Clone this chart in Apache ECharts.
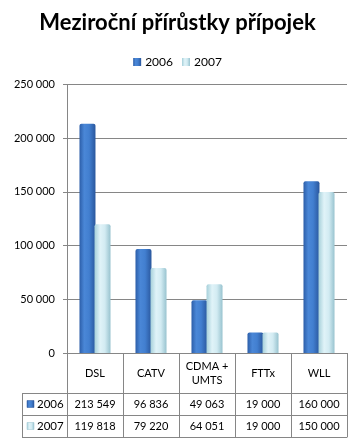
<!DOCTYPE html>
<html><head><meta charset="utf-8">
<script src="https://cdn.jsdelivr.net/npm/echarts@6/dist/echarts.min.js"></script>
<style>html,body{margin:0;padding:0;background:#fff}#c{width:355px;height:443px}</style>
</head><body><div id="c"></div>
<script>
const titleText = 'Meziroční přírůstky přípojek';
const categories = ['DSL', 'CATV', 'CDMA +\nUMTS', 'FTTx', 'WLL'];
const seriesNames = ['2006', '2007'];
const values2006 = [213549, 96836, 49063, 19000, 160000];
const values2007 = [119818, 79220, 64051, 19000, 150000];
const yTicks = [0, 50000, 100000, 150000, 200000, 250000];

const fmt = v => String(v).replace(/\B(?=(\d{3})+(?!\d))/g, ' ');
const FONT = 'Lato';
const GRAY = '#868686';
const W = 355, H = 443;
const gridLeft = 67, gridRight = 8, gridTop = 84.5, gridBottom = 90;
const headerH = 40, rowH = 22;
const tableLeft = 22;
const axisY = H - gridBottom;

const grad2006 = () => new echarts.graphic.LinearGradient(0, 0, 1, 0, [
  {offset: 0, color: '#2c5ea9'}, {offset: 0.3, color: '#4a87d7'},
  {offset: 0.6, color: '#427fd0'}, {offset: 1, color: '#2a579d'}]);
const grad2007 = () => new echarts.graphic.LinearGradient(0, 0, 1, 0, [
  {offset: 0, color: '#a6d0da'}, {offset: 0.35, color: '#e0f3f8'},
  {offset: 0.65, color: '#d2ebf2'}, {offset: 1, color: '#98c3cf'}]);

const chart = echarts.init(document.getElementById('c'), null, {renderer: 'canvas'});
const labelBase = {color: '#000', fontSize: 11, fontFamily: FONT};

const lineStyle = {color: GRAY, width: 1};
const tableAxis = (data, offset, margin, showLabel) => ({
  type: 'category', data: data, position: 'bottom', offset: offset, gridIndex: 0,
  axisLine: {show: true, lineStyle: lineStyle},
  axisTick: {show: false},
  axisLabel: Object.assign({show: showLabel, interval: 0, margin: margin, verticalAlign: 'middle'}, labelBase),
  splitLine: {show: false}
});

const graphics = [];
[headerH, headerH + rowH, headerH + 2 * rowH].forEach(dy => {
  graphics.push({type: 'line', shape: {x1: tableLeft, y1: axisY + dy + 0.5, x2: gridLeft, y2: axisY + dy + 0.5}, style: {stroke: GRAY, lineWidth: 1}});
});
graphics.push({type: 'line', shape: {x1: tableLeft + 0.5, y1: axisY + headerH, x2: tableLeft + 0.5, y2: axisY + headerH + 2 * rowH}, style: {stroke: GRAY, lineWidth: 1}});
[grad2006, grad2007].forEach((g, i) => {
  const cy = axisY + headerH + rowH * i + rowH / 2;
  graphics.push({type: 'rect', shape: {x: tableLeft + 5, y: cy - 3.5, width: 7, height: 7}, style: {fill: g(), stroke: i === 0 ? '#2a579d' : '#98c3cf', lineWidth: 0.5}});
  graphics.push({type: 'text', x: tableLeft + 15, y: cy, style: {text: seriesNames[i], fill: '#000', font: '11.5px ' + FONT, verticalAlign: 'middle', align: 'left'}});
});

chart.setOption({
  backgroundColor: '#fff',
  animation: false,
  title: {text: titleText, left: 'center', top: 7,
    textStyle: {fontFamily: FONT, fontWeight: 'bold', fontSize: 22, color: '#000'}},
  legend: {top: 51, left: 'center', itemWidth: 8, itemHeight: 8, itemGap: 9,
    icon: 'rect', textStyle: {fontFamily: FONT, fontSize: 12, color: '#000', padding: [0, 0, 0, -1]},
    data: seriesNames},
  grid: {left: gridLeft, right: gridRight, top: gridTop, bottom: gridBottom, containLabel: false},
  xAxis: [
    {type: 'category', data: categories, position: 'bottom',
      axisLine: {show: true, lineStyle: lineStyle},
      axisTick: {show: true, interval: 0, length: headerH + 2 * rowH, lineStyle: lineStyle},
      axisLabel: Object.assign({interval: 0, margin: headerH / 2, verticalAlign: 'middle', lineHeight: 14, align: 'center'}, labelBase)},
    tableAxis(values2006.map(fmt), headerH, rowH / 2, true),
    tableAxis(values2007.map(fmt), headerH + rowH, rowH / 2, true),
    tableAxis(categories, headerH + 2 * rowH, 0, false)
  ],
  yAxis: {type: 'value', min: yTicks[0], max: yTicks[yTicks.length - 1], interval: yTicks[1] - yTicks[0],
    axisLine: {show: true, lineStyle: lineStyle},
    axisTick: {show: true, length: 4, lineStyle: lineStyle},
    axisLabel: Object.assign({margin: 12, formatter: fmt}, labelBase),
    splitLine: {show: true, lineStyle: lineStyle}},
  series: [
    {name: seriesNames[0], type: 'bar', xAxisIndex: 0, data: values2006, barWidth: 16, barGap: '-6%',
      itemStyle: {color: grad2006(), borderRadius: [2, 2, 0, 0]}},
    {name: seriesNames[1], type: 'bar', xAxisIndex: 0, data: values2007, barWidth: 16, barGap: '-6%',
      itemStyle: {color: grad2007(), borderRadius: [2, 2, 0, 0]}}
  ],
  graphic: graphics
});
</script></body></html>
